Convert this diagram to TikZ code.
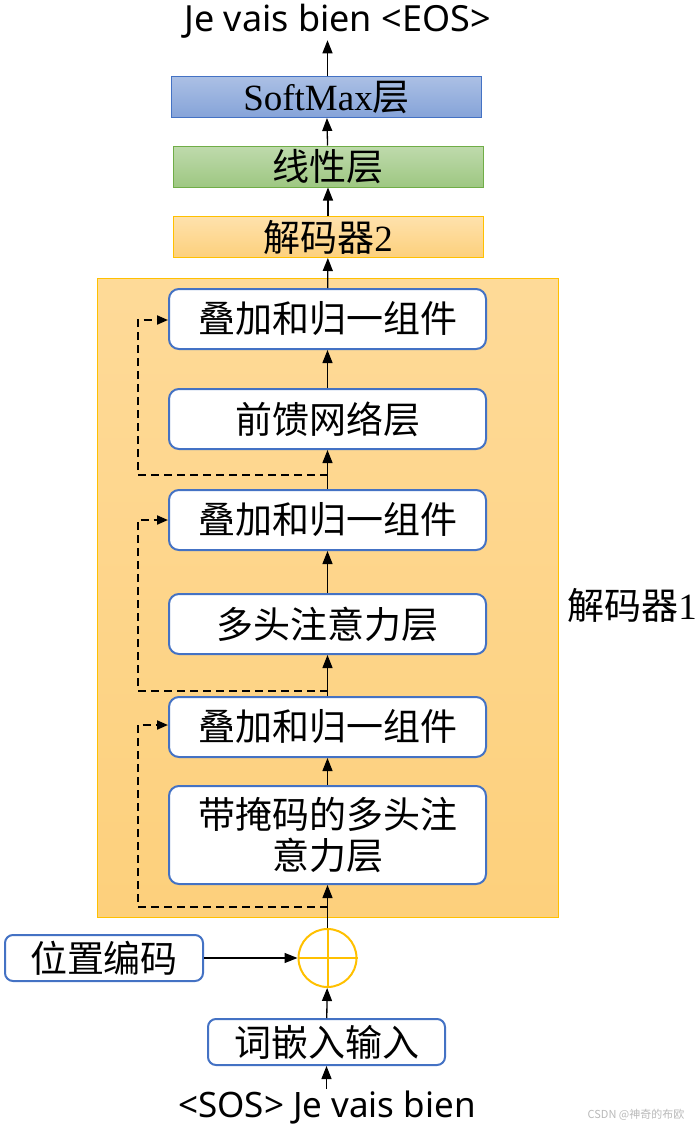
\documentclass[tikz,border=0pt]{standalone}
\usepackage{fontspec}
\setmainfont{Liberation Serif}
\setsansfont{Noto Sans}
\newfontfamily\cjk{Noto Sans CJK SC}
\usetikzlibrary{arrows.meta}

\definecolor{layerblue}{HTML}{4472C4}
\definecolor{decgold}{HTML}{FFC000}
\definecolor{dectop}{HTML}{FEDA98}
\definecolor{decbottom}{HTML}{FDD07C}
\definecolor{lingreen}{HTML}{70AD47}
\newcommand\bigcjk{\fontsize{37}{44}\selectfont\cjk}

\begin{document}
\begin{tikzpicture}[x=1pt,y=-1pt,
    layer/.style={draw=layerblue, line width=2pt, rounded corners=10pt, fill=white,
      minimum width=317pt, minimum height=60pt, inner sep=0pt, font=\bigcjk, align=center},
    flatbox/.style={minimum width=310pt, minimum height=41pt, inner sep=0pt, line width=1pt, font=\bigcjk},
    link/.style={-{Triangle[length=13pt,width=10pt]}, line width=1.3pt},
    skip/.style={-{Triangle[length=11pt,width=9pt]}, line width=2pt, dash pattern=on 8pt off 5pt}]
    \useasboundingbox (0,0) rectangle (697,1130);

    % Decoder 1 block
    \node[draw=decgold, line width=1pt, top color=dectop, bottom color=decbottom,
      minimum width=461pt, minimum height=639pt] (dec1) at (327.5,597.5) {};
    \node[font=\bigcjk] (dec1label) at (632,605) {解码器{\rmfamily 1}};

    % Layers inside decoder 1
    \node[layer, minimum height=98pt, font=\fontsize{37}{41}\selectfont\cjk] (mmha) at (327.5,835) {带掩码的多头注\\意力层};
    \node[layer] (add1) at (327.5,727) {叠加和归一组件};
    \node[layer] (mha) at (327.5,624) {多头注意力层};
    \node[layer] (add2) at (327.5,520) {叠加和归一组件};
    \node[layer] (ffn) at (327.5,419) {前馈网络层};
    \node[layer] (add3) at (327.5,319) {叠加和归一组件};

    % Upper stack
    \node[flatbox, draw=decgold, top color=dectop!80!white, bottom color=decbottom] (dec2) at (328,237) {解码器{\rmfamily 2}};
    \node[flatbox, draw=lingreen, top color=lingreen!45, bottom color=lingreen!68] (linear) at (328,166.5) {线性层};
    \node[flatbox, draw=layerblue, top color=layerblue!45, bottom color=layerblue!65] (softmax) at (326.5,97) {{\rmfamily SoftMax}层};
    \node[font=\sffamily\fontsize{36}{40}\selectfont, inner sep=2pt] (out) at (337.5,21) {Je vais bien <EOS>};

    % Input side
    \node[circle, draw=decgold, line width=2pt, minimum size=58pt, inner sep=0pt] (plus) at (327.5,958) {};
    \draw[decgold, line width=2pt] (plus.north) -- (plus.south) (plus.west) -- (plus.east);
    \node[layer, rounded corners=8pt, minimum width=198pt, minimum height=46pt] (pos) at (104,958) {位置编码};
    \node[layer, rounded corners=8pt, minimum width=237pt, minimum height=46pt] (emb) at (326.5,1042) {词嵌入输入};
    \node[font=\sffamily\fontsize{35}{40}\selectfont, inner sep=2pt] (inp) at (327,1108) {<SOS> Je vais bien};

    % Main flow
    \draw[link] (inp.north -| emb) -- (emb);
    \draw[link] (emb) -- (plus);
    \draw[link] (pos) -- (plus);
    \draw[link] (plus) -- (mmha);
    \draw[link] (mmha) -- (add1);
    \draw[link] (add1) -- (mha);
    \draw[link] (mha) -- (add2);
    \draw[link] (add2) -- (ffn);
    \draw[link] (ffn) -- (add3);
    \draw[link] (add3) -- (dec2);
    \draw[link] (dec2) -- (linear);
    \draw[link] (linear) -- (softmax);
    \draw[link] (softmax.north -| add3) -- (out.south -| add3);

    % Residual connections
    \coordinate (res1) at (327.5,907);
    \coordinate (res2) at (327.5,691);
    \coordinate (res3) at (327.5,475);
    \draw[skip] (res1) -- ++(-190,0) |- ([yshift=2pt]add1.west);
    \draw[skip] (res2) -- ++(-190,0) |- (add2.west);
    \draw[skip] (res3) -- ++(-190,0) |- ([yshift=-1pt]add3.west);

    % Watermark
    \node[text=gray!55, font=\cjk\fontsize{11}{13}\selectfont] (mark) at (636,1115) {CSDN @神奇的布欧};
\end{tikzpicture}
\end{document}
